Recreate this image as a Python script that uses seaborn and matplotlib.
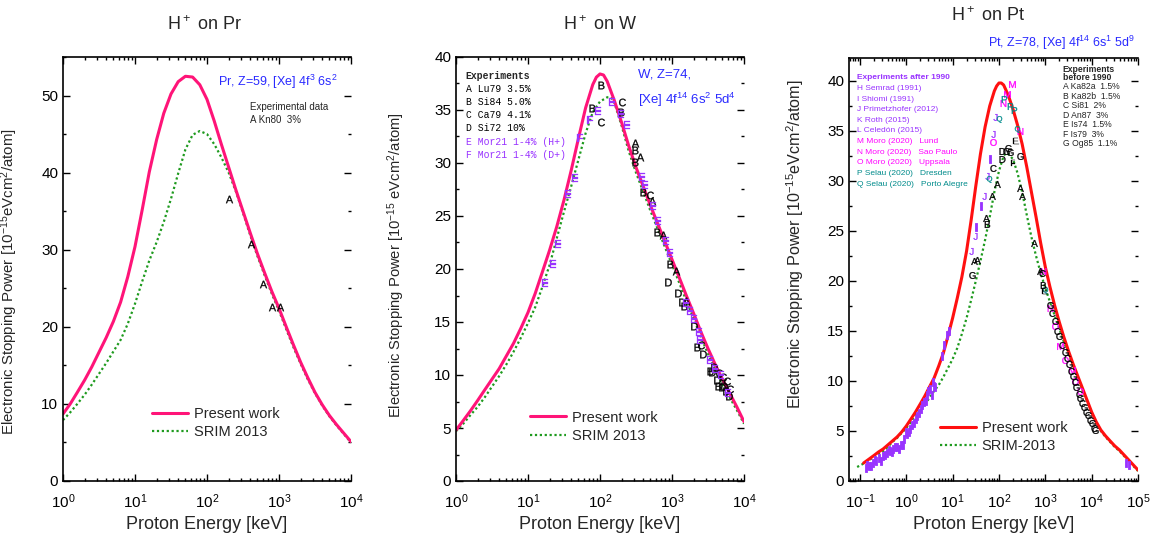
import matplotlib
matplotlib.use("Agg")
import matplotlib.pyplot as plt
from matplotlib.lines import Line2D
from matplotlib.ticker import LogLocator, MultipleLocator, NullFormatter
import numpy as np
import seaborn as sns

sns.set_theme(style="ticks")
plt.rcParams["font.family"] = ["Liberation Sans", "DejaVu Sans"]
plt.rcParams["mathtext.fontset"] = "custom"
plt.rcParams["mathtext.rm"] = "Liberation Sans"
plt.rcParams["mathtext.it"] = "Liberation Sans:italic"
plt.rcParams["mathtext.bf"] = "Liberation Sans:bold"

PINK = "#ff1478"
RED = "#ff1010"
GREEN = "#1e9a1e"
BLUE = "#2a2aff"
PURPLE = "#9933ff"
MAGENTA = "#ff00ff"
TEAL = "#008b8b"

# ---------------- H+ on Pr ----------------
pr_present_e = [1, 1.26, 1.58, 2.0, 2.51, 3.16, 3.98, 5.01, 6.31, 7.94,
                10, 12.6, 15.8, 20.0, 25.1, 31.6, 39.8, 50.1, 63.1, 79.4,
                100, 126, 158, 200, 251, 316, 398, 501, 631, 794,
                1000, 1260, 1580, 2000, 2510, 3160, 3980, 5010, 6310, 7940, 10000]
pr_present_s = [8.7, 10.0, 11.5, 13.1, 14.8, 16.7, 18.6, 20.7, 23.2, 26.5,
                30.4, 35.2, 40.1, 44.3, 47.7, 50.2, 51.8, 52.5, 52.4, 51.4,
                49.5, 46.7, 43.7, 40.7, 37.8, 35.0, 32.2, 29.5, 27.0, 24.6,
                22.4, 20.0, 17.7, 15.4, 13.4, 11.5, 9.9, 8.5, 7.3, 6.2, 5.1]
pr_srim_e = [1, 1.26, 1.58, 2.0, 2.51, 3.16, 3.98, 5.01, 6.31, 7.94,
             10, 12.6, 15.8, 20.0, 25.1, 31.6, 39.8, 50.1, 63.1, 79.4,
             100, 126, 158, 200, 251, 316, 398, 501, 631, 794,
             1000, 1260, 1580, 2000, 2510, 3160, 3980, 5010, 6310, 7940, 10000]
pr_srim_s = [7.9, 8.9, 10.0, 11.2, 12.5, 13.9, 15.3, 16.8, 18.3, 20.4,
             23.0, 25.9, 28.6, 31.0, 33.6, 36.6, 39.9, 43.0, 44.9, 45.4,
             45.0, 43.7, 42.0, 40.0, 37.6, 34.8, 31.9, 29.2, 26.7, 24.3,
             22.1, 19.7, 17.4, 15.2, 13.2, 11.4, 9.8, 8.4, 7.2, 6.1, 5.0]
pr_kn80_e = [204, 407, 603, 794, 1020]
pr_kn80_s = [36.6, 30.8, 25.5, 22.6, 22.6]

# ---------------- H+ on W ----------------
w_present_e = [1, 1.26, 1.58, 2.0, 2.51, 3.16, 3.98, 5.01, 6.31, 7.94,
               10, 12.6, 15.8, 20.0, 25.1, 31.6, 39.8, 50.1, 63.1, 79.4, 89.1,
               100, 112, 126, 158, 200, 251, 316, 398, 501, 631, 794,
               1000, 1260, 1580, 2000, 2510, 3160, 3980, 5010, 6310, 7940, 10000]
w_present_s = [4.8, 5.7, 6.6, 7.6, 8.6, 9.6, 10.6, 11.8, 13.0, 14.4,
               15.9, 17.7, 19.7, 21.8, 24.0, 26.5, 29.3, 32.3, 35.2, 37.4, 38.1,
               38.4, 38.3, 37.7, 35.9, 33.8, 31.6, 29.6, 27.8, 26.0, 24.3, 22.6,
               20.9, 19.2, 17.5, 15.8, 14.1, 12.5, 11.0, 9.6, 8.3, 7.0, 5.6]
w_srim_e = [1, 1.26, 1.58, 2.0, 2.51, 3.16, 3.98, 5.01, 6.31, 7.94,
            10, 12.6, 15.8, 20.0, 25.1, 31.6, 39.8, 50.1, 63.1, 79.4,
            100, 126, 141, 158, 200, 251, 316, 398, 501, 631, 794,
            1000, 1260, 1580, 2000, 2510, 3160, 3980, 5010, 6310, 7940, 10000]
w_srim_s = [4.7, 5.4, 6.2, 7.0, 7.9, 8.9, 9.9, 11.0, 12.2, 13.5,
            14.9, 16.4, 18.3, 20.4, 22.9, 25.4, 27.8, 30.3, 32.8, 34.8,
            35.8, 36.2, 36.2, 35.7, 33.5, 31.1, 29.1, 27.3, 25.5, 23.8, 22.1,
            20.4, 18.7, 17.0, 15.3, 13.6, 12.0, 10.5, 9.1, 7.9, 6.7, 5.4]
w_lu79_e = [309, 355, 525, 759, 1120, 1580]
w_lu79_s = [31.9, 30.6, 26.4, 23.2, 19.8, 17.0]
w_si84_e = [102, 77.6, 195, 309, 302, 398, 617, 933, 1450, 2240, 3390, 4370]
w_si84_s = [37.4, 35.2, 34.8, 30.1, 31.2, 27.3, 23.5, 20.5, 16.5, 12.6, 10.4, 9.0]
w_ca79_e = [102, 204, 490, 2510, 4470, 5130, 5750, 6310]
w_ca79_s = [33.9, 35.8, 27.0, 12.8, 10.2, 9.8, 9.4, 8.7]
w_si72_e = [891, 1230, 1380, 2000, 2690, 3550, 3800, 4170, 4900, 5250, 5620, 6170]
w_si72_s = [18.8, 17.7, 16.9, 14.6, 12.0, 10.3, 10.8, 9.5, 8.9, 9.0, 8.5, 8.0]
w_mor21h_e = [17.4, 22.4, 26.3, 36.3, 44.7, 93.3, 145, 195, 240, 389, 427, 550, 631, 832, 933,
              1580, 1780, 2000, 2340, 2450, 3390, 3980, 4790, 6030]
w_mor21h_s = [18.7, 20.5, 22.4, 27.1, 28.6, 34.9, 35.8, 34.6, 33.6, 28.7, 27.9, 25.9, 24.5, 22.6,
              21.5, 16.8, 16.0, 15.3, 14.1, 13.3, 11.4, 10.6, 10.0, 8.3]
w_mor21d_e = [52.5, 72.4]
w_mor21d_s = [32.4, 34.1]

# ---------------- H+ on Pt ----------------
pt_present_e = [0.12, 0.158, 0.2, 0.251, 0.316, 0.398, 0.501, 0.631, 0.794,
                1, 1.26, 1.58, 2.0, 2.51, 3.16, 3.98, 5.01, 6.31, 7.94,
                10, 12.6, 15.8, 20.0, 25.1, 31.6, 39.8, 50.1, 63.1, 79.4, 89.1,
                100, 112, 126, 158, 200, 251, 316, 398, 501, 631, 794,
                1000, 1260, 1580, 2000, 2510, 3160, 3980, 5010, 6310, 7940,
                10000, 12600, 15800, 20000, 25100, 31600, 39800, 50100, 63100, 79400, 100000]
pt_present_s = [1.8, 2.2, 2.55, 2.9, 3.2, 3.6, 4.0, 4.4, 4.9,
                5.5, 6.2, 6.9, 7.7, 8.5, 9.4, 10.3, 11.5, 12.8, 14.5,
                16.3, 18.3, 20.4, 23.0, 26.1, 29.5, 32.7, 35.4, 37.5, 39.0, 39.5,
                39.8, 39.8, 39.6, 38.6, 37.2, 35.6, 33.7, 31.4, 28.9, 26.4, 23.8,
                21.4, 19.4, 17.6, 15.9, 14.4, 13.0, 11.7, 10.5, 9.3, 8.1,
                6.9, 5.9, 5.1, 4.5, 4.0, 3.5, 3.1, 2.6, 2.1, 1.6, 1.1]
pt_srim_e = [0.087, 0.126, 0.158, 0.2, 0.251, 0.316, 0.398, 0.501, 0.631, 0.794,
             1, 1.26, 1.58, 2.0, 2.51, 3.16, 3.98, 5.01, 6.31, 7.94,
             10, 12.6, 15.8, 20.0, 25.1, 31.6, 39.8, 50.1, 63.1, 79.4,
             100, 126, 141, 158, 200, 251, 316, 398, 501, 631, 794,
             1000, 1260, 1580, 2000, 2510, 3160, 3980, 5010, 6310, 7940,
             10000, 12600, 15800, 20000, 25100, 31600, 39800, 50100, 63100, 79400, 100000]
pt_srim_s = [1.4, 1.8, 2.1, 2.4, 2.7, 3.0, 3.4, 3.9, 4.3, 4.8,
             5.3, 5.9, 6.5, 7.1, 7.7, 8.3, 9.0, 9.6, 10.4, 11.3,
             12.2, 13.3, 14.7, 16.3, 18.1, 20.0, 22.0, 24.1, 26.4, 28.9,
             31.0, 32.5, 32.8, 32.7, 32.2, 30.8, 28.9, 26.6, 24.4, 22.5, 20.8,
             19.3, 17.9, 16.6, 15.3, 13.9, 12.8, 11.5, 10.3, 9.1, 8.0,
             6.8, 5.8, 5.0, 4.4, 3.9, 3.4, 3.0, 2.5, 2.0, 1.5, 1.0]

# experiments after 1990
pt_h_e = [0.145, 0.174, 0.21, 0.29, 0.35, 0.42, 0.50, 0.58, 0.69, 0.83, 0.97, 1.15, 1.35, 1.6,
          1.9, 2.2, 2.6, 3.0, 3.5, 4.0]
pt_h_s = [1.6, 1.5, 2.1, 2.0, 2.6, 3.1, 2.9, 3.4, 3.2, 3.6, 4.9, 4.9, 5.6, 6.2, 6.8, 7.6, 8.0,
          9.0, 8.6, 9.5]
pt_i_e = [0.132, 0.158, 0.191, 0.224, 0.263, 0.316, 0.380, 0.447, 0.525, 0.631, 0.759, 0.891,
          1.05, 1.23, 1.45, 1.74, 2.04, 2.40, 2.82, 3.31, 3.80, 4.17, 5.75, 6.61, 7.59, 8.32,
          32.4, 40.0, 64.6, 56300, 63100]
pt_i_s = [1.3, 1.5, 1.8, 2.0, 2.3, 2.5, 2.8, 3.0, 3.2, 3.4, 3.6, 4.2, 4.7, 5.2, 5.8, 6.5, 7.2,
          7.9, 8.6, 9.2, 9.9, 9.4, 12.5, 13.6, 14.6, 15.0, 25.4, 27.5, 32.2, 1.8, 1.6]
pt_j_e = [25.1, 46.8, 54.9, 74.1, 83.2, 30.2]
pt_j_s = [23.0, 28.5, 30.5, 34.7, 36.4, 24.5]
pt_m_e = [191, 148, 2090, 3720]
pt_m_s = [39.7, 38.7, 13.5, 11.1]
pt_n_e = [120, 282, 1260, 912]
pt_n_s = [37.8, 35.0, 17.3, 21.0]
pt_o_e = [75.9, 2630, 4370, 5500, 1580]
pt_o_s = [33.9, 12.1, 10.0, 9.0, 15.5]
pt_p_e = [126, 174, 209]
pt_p_s = [38.2, 37.5, 37.1]
pt_q_e = [98, 245, 60.3, 1000]
pt_q_s = [36.2, 35.2, 30.2, 19.1]
# experiments before 1990
pt_a_e = [89.1, 288, 70.8, 316, 52.5, 562, 28.2, 776, 33.1]
pt_a_s = [29.7, 29.3, 28.5, 28.5, 26.3, 23.8, 22.0, 21.0, 22.1]
pt_b_e = [55.0, 891]
pt_b_s = [25.7, 19.6]
pt_c_e = [75.9, 832, 1400, 1800, 2300, 2900, 3500, 4300, 5200, 6300, 7600, 9200, 11000]
pt_c_s = [31.3, 20.8, 16.8, 15.0, 13.6, 12.3, 11.0, 9.9, 8.7, 7.8, 6.9, 6.1, 5.3]
pt_d_e = [115, 115]
pt_d_s = [33.0, 32.2]
pt_e_e = [234, 1000]
pt_e_s = [34.0, 19.0]
pt_f_e = [200]
pt_f_s = [31.8]
pt_g_e = [158, 174, 141, 288, 26.3, 1250, 1600, 2000, 2600, 3200, 3900, 4700, 5700, 6900, 8300,
          10000, 12000]
pt_g_s = [33.3, 32.9, 33.0, 32.5, 20.6, 17.6, 16.0, 14.5, 12.9, 11.7, 10.5, 9.4, 8.3, 7.4, 6.6,
          5.8, 5.1]

pr_note = "Pr, Z=59, [Xe] 4f$^3$ 6s$^2$"
w_note = ["W, Z=74,", "[Xe] 4f$^{14}$ 6s$^2$ 5d$^4$"]
pt_note = "Pt, Z=78, [Xe] 4f$^{14}$ 6s$^1$ 5d$^9$"

w_legend = ["A Lu79 3.5%", "B Si84 5.0%", "C Ca79 4.1%", "D Si72 10%",
            "E Mor21 1-4% (H+)", "F Mor21 1-4% (D+)"]
pt_after = ["H Semrad (1991)", "I Shiomi (1991)", "J Primetzhofer (2012)", "K Roth (2015)",
            "L Celedón (2015)", "M Moro (2020)   Lund", "N Moro (2020)   Sao Paulo",
            "O Moro (2020)   Uppsala", "P Selau (2020)   Dresden", "Q Selau (2020)   Porto Alegre"]
pt_after_colors = [PURPLE] * 5 + [MAGENTA] * 3 + [TEAL] * 2
pt_before = ["A Ka82a  1.5%", "B Ka82b  1.5%", "C Si81  2%", "D An87  3%", "E Is74  1.5%",
             "F Is79  3%", "G Og85  1.1%"]

W, H = 1150, 536
fig = plt.figure(figsize=(W / 100, H / 100), dpi=100)


def box(x0, y0, x1, y1):
    return [x0 / W, 1 - y1 / H, (x1 - x0) / W, (y1 - y0) / H]


ax1 = fig.add_axes(box(63, 57, 351, 481))
ax2 = fig.add_axes(box(456, 57, 744, 481))
ax3 = fig.add_axes(box(849, 58, 1138, 481))


def curves(ax, pe, ps, se, ss, col):
    sns.lineplot(x=se, y=ss, ax=ax, color=GREEN, lw=1.6, linestyle=(0, (1, 1.2)),
                 estimator=None, sort=False, zorder=2)
    sns.lineplot(x=pe, y=ps, ax=ax, color=col, lw=2.2, estimator=None, sort=False, zorder=2.5)


def letters(ax, e, s, ch, col, bold=False, size=30, lw=0.2):
    m = f"$\\mathbf{{{ch}}}$" if bold else f"$\\mathrm{{{ch}}}$"
    sns.scatterplot(x=e, y=s, ax=ax, marker=m, s=size, color=col, edgecolor=col,
                    linewidth=lw, legend=False, zorder=3)


def style(ax, xlim, ylim, ymaj, ymin):
    ax.set_xscale("log")
    ax.set_xlim(*xlim)
    ax.set_ylim(*ylim)
    ax.xaxis.set_major_locator(LogLocator(base=10, numticks=20))
    ax.xaxis.set_minor_locator(LogLocator(base=10, subs=np.arange(2, 10), numticks=20))
    ax.xaxis.set_minor_formatter(NullFormatter())
    ax.yaxis.set_major_locator(MultipleLocator(ymaj))
    ax.yaxis.set_minor_locator(MultipleLocator(ymin))
    ax.tick_params(which="both", direction="in", top=True, right=True, colors="black",
                   labelsize=11, width=1)
    ax.tick_params(which="major", length=5)
    ax.tick_params(which="minor", length=2.5)
    ax.tick_params(axis="x", pad=8)
    for side in ("left", "bottom", "top"):
        ax.spines[side].set_linewidth(1.2)
        ax.spines[side].set_color("black")
    ax.spines["right"].set_visible(False)
    ax.set_xlabel("Proton Energy [keV]", fontsize=13)
    ax.xaxis.set_label_coords(0.5, -0.082)


def curve_legend(ax, x0, ymid, col, srim_label):
    handles = [Line2D([], [], color=col, lw=2.2),
               Line2D([], [], color=GREEN, lw=1.6, linestyle=(0, (1, 1.2)))]
    ax.legend(handles, ["Present work", srim_label], loc="center left",
              bbox_to_anchor=(x0, ymid), frameon=False, fontsize=10.5, borderpad=0,
              borderaxespad=0, handlelength=2.5, handletextpad=0.35, labelspacing=0.3)


# Pr panel
curves(ax1, pr_present_e, pr_present_s, pr_srim_e, pr_srim_s, PINK)
letters(ax1, pr_kn80_e, pr_kn80_s, "A", "black", size=28)
style(ax1, (1, 1e4), (0, 55), 10, 5)
ax1.set_ylabel("Electronic Stopping Power [10$^{-15}$eVcm$^2$/atom]", fontsize=10.8)
ax1.yaxis.set_label_coords(-0.149, 0.47)
ax1.text(0.538, 0.941, pr_note, transform=ax1.transAxes, color=BLUE, fontsize=9, va="center")
ax1.text(0.649, 0.882, "Experimental data", transform=ax1.transAxes, fontsize=7, va="center")
ax1.text(0.649, 0.851, "A Kn80  3%", transform=ax1.transAxes, fontsize=7, va="center")
curve_legend(ax1, 0.309, 0.137, PINK, "SRIM 2013")

# W panel
curves(ax2, w_present_e, w_present_s, w_srim_e, w_srim_s, PINK)
letters(ax2, w_lu79_e, w_lu79_s, "A", "black")
letters(ax2, w_si84_e, w_si84_s, "B", "black")
letters(ax2, w_ca79_e, w_ca79_s, "C", "black")
letters(ax2, w_si72_e, w_si72_s, "D", "black")
letters(ax2, w_mor21h_e, w_mor21h_s, "E", PURPLE, bold=True)
letters(ax2, w_mor21d_e, w_mor21d_s, "F", PURPLE, bold=True)
style(ax2, (1, 1e4), (0, 40), 5, 2.5)
ax2.set_ylabel("Electronic Stopping Power [10$^{-15}$ eVcm$^2$/atom]", fontsize=10.6)
ax2.yaxis.set_label_coords(-0.17, 0.51)
ax2.text(0.632, 0.958, w_note[0], transform=ax2.transAxes, color=BLUE, fontsize=9.5, va="center")
ax2.text(0.632, 0.899, w_note[1], transform=ax2.transAxes, color=BLUE, fontsize=9.5, va="center",
         clip_on=False)
ax2.text(0.034, 0.956, "Experiments", transform=ax2.transAxes, fontsize=7, va="center",
         family="Liberation Mono", weight="bold")
for i, line in enumerate(w_legend):
    ax2.text(0.034, 0.925 - i * 0.0311, line, transform=ax2.transAxes, fontsize=7, va="center",
             family="Liberation Mono", color=PURPLE if i >= 4 else "black")
curve_legend(ax2, 0.257, 0.128, PINK, "SRIM 2013")

# Pt panel
curves(ax3, pt_present_e, pt_present_s, pt_srim_e, pt_srim_s, RED)
letters(ax3, pt_h_e, pt_h_s, "I", PURPLE, bold=True, size=34, lw=0.6)
letters(ax3, pt_i_e, pt_i_s, "I", PURPLE, bold=True, size=34, lw=0.6)
for e, s, ch, col in [(pt_j_e, pt_j_s, "J", PURPLE), (pt_m_e, pt_m_s, "M", MAGENTA),
                      (pt_n_e, pt_n_s, "N", MAGENTA), (pt_o_e, pt_o_s, "O", MAGENTA),
                      (pt_p_e, pt_p_s, "P", TEAL), (pt_q_e, pt_q_s, "Q", TEAL),
                      (pt_a_e, pt_a_s, "A", "black"), (pt_b_e, pt_b_s, "B", "black"),
                      (pt_c_e, pt_c_s, "C", "black"), (pt_d_e, pt_d_s, "D", "black"),
                      (pt_e_e, pt_e_s, "E", "black"), (pt_f_e, pt_f_s, "F", "black"),
                      (pt_g_e, pt_g_s, "G", "black")]:
    letters(ax3, e, s, ch, col, size=24)
style(ax3, (0.058, 1e5), (0, 42.3), 5, 2.5)
ax3.set_ylabel("Electronic Stopping Power [10$^{-15}$eVcm$^2$/atom]", fontsize=11.6)
ax3.yaxis.set_label_coords(-0.149, 0.56)
ax3.text(0.481, 1.035, pt_note, transform=ax3.transAxes, color=BLUE, fontsize=9, va="center")
ax3.text(0.028, 0.953, "Experiments after 1990", transform=ax3.transAxes, fontsize=6,
         va="center", color=PURPLE, weight="bold")
for i, (line, c) in enumerate(zip(pt_after, pt_after_colors)):
    ax3.text(0.028, 0.928 - i * 0.0251, line, transform=ax3.transAxes, fontsize=6,
             va="center", color=c)
ax3.text(0.74, 0.972, "Experiments", transform=ax3.transAxes, fontsize=6.2, va="center",
         weight="bold")
ax3.text(0.74, 0.953, "before 1990", transform=ax3.transAxes, fontsize=6.2, va="center",
         weight="bold")
for i, line in enumerate(pt_before):
    ax3.text(0.74, 0.932 - i * 0.0225, line, transform=ax3.transAxes, fontsize=6.2, va="center")
curve_legend(ax3, 0.315, 0.104, RED, "SRIM-2013")

# panel titles
fig.text(205 / W, 1 - 25 / H, "H$^+$ on Pr", ha="center", va="center", fontsize=13)
fig.text(600 / W, 1 - 25 / H, "H$^+$ on W", ha="center", va="center", fontsize=13)
fig.text(988 / W, 1 - 16 / H, "H$^+$ on Pt", ha="center", va="center", fontsize=13)

fig.savefig("out.png", dpi=100, facecolor="white")
